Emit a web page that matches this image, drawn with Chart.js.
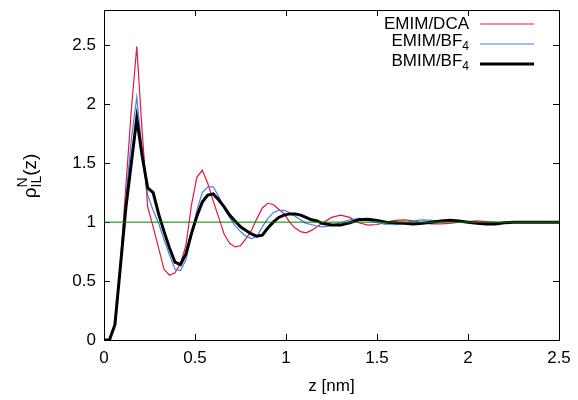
<!DOCTYPE html>
<html>
<head>
<meta charset="utf-8">
<script src="https://cdn.jsdelivr.net/npm/chart.js@4/dist/chart.umd.min.js"></script>
<style>
    html, body { margin: 0; padding: 0; background: #fff; }
    #wrap { width: 578px; height: 400px; }
</style>
</head>
<body>
<div id="wrap"><canvas id="chart"></canvas></div>
<script>
// sample positions z [nm]
const zValues = [
    0, 0.03, 0.06, 0.09, 0.12, 0.15, 0.18, 0.21, 0.24, 0.27,
    0.30, 0.33, 0.36, 0.39, 0.42, 0.45, 0.48, 0.51, 0.54, 0.57,
    0.60, 0.63, 0.66, 0.69, 0.72, 0.75, 0.78, 0.81, 0.84, 0.87,
    0.90, 0.93, 0.96, 0.99, 1.02, 1.05, 1.08, 1.11, 1.14, 1.17,
    1.20, 1.25, 1.30, 1.35, 1.40, 1.45, 1.50, 1.55, 1.60, 1.65,
    1.70, 1.75, 1.80, 1.85, 1.90, 1.95, 2.00, 2.05, 2.10, 2.15,
    2.20, 2.25, 2.30, 2.35, 2.40, 2.45, 2.50,
];

const emimDca = [
    0, 0, 0.14, 0.65, 1.3, 1.95, 2.49, 1.76, 1.13, 0.96,
    0.78, 0.6, 0.55, 0.57, 0.65, 0.8, 1.14, 1.38, 1.44, 1.33,
    1.18, 1.04, 0.9, 0.82, 0.79, 0.8, 0.86, 0.93, 1.03, 1.12,
    1.16, 1.15, 1.11, 1.07, 1.0, 0.95, 0.92, 0.91, 0.93, 0.96,
    0.99, 1.04, 1.06, 1.04, 0.995, 0.975, 0.98, 1.0, 1.015, 1.02,
    1.01, 0.995, 0.985, 0.985, 0.99, 1.0, 1.005, 1.01, 1.005, 1.0,
    0.995, 1.0, 1.0, 1.0, 1.0, 1.0, 1.0,
];

const emimBf4 = [
    0, 0, 0.14, 0.65, 1.2, 1.7, 2.06, 1.6, 1.23, 1.1,
    0.99, 0.85, 0.72, 0.6, 0.59, 0.68, 0.88, 1.1, 1.25, 1.3,
    1.3, 1.22, 1.12, 1.04, 0.97, 0.92, 0.88, 0.86, 0.88, 0.96,
    1.03, 1.08, 1.1, 1.1, 1.08, 1.05, 1.02, 0.99, 0.98, 0.965,
    0.96, 0.97, 0.995, 1.02, 1.03, 1.015, 0.995, 0.98, 0.978, 0.99,
    1.01, 1.02, 1.015, 1.01, 1.01, 1.005, 1.0, 0.995, 0.995, 0.995,
    1.0, 1.0, 1.0, 1.0, 1.0, 1.0, 1.0,
];

const bmimBf4 = [
    0, 0, 0.13, 0.62, 1.12, 1.5, 1.88, 1.56, 1.29, 1.25,
    1.07, 0.92, 0.78, 0.66, 0.64, 0.73, 0.9, 1.05, 1.17, 1.23,
    1.24, 1.19, 1.13, 1.06, 1.01, 0.96, 0.93, 0.9, 0.88, 0.89,
    0.95, 1.0, 1.04, 1.06, 1.07, 1.07, 1.06, 1.04, 1.02, 1.01,
    0.99, 0.975, 0.975, 0.995, 1.02, 1.025, 1.015, 1.0, 0.995, 0.99,
    0.985, 0.99, 1.0, 1.01, 1.015, 1.01, 1.0, 0.99, 0.985, 0.985,
    0.995, 1.0, 1.0, 1.0, 1.0, 1.0, 1.0,
];

// bulk reference line
const refZ = [0, 2.5];
const refY = [1, 1];

const seriesLabels = ["EMIM/DCA", "EMIM/BF_4", "BMIM/BF_4"];
const xTicks = [0, 0.5, 1, 1.5, 2, 2.5];
const yTicks = [0, 0.5, 1, 1.5, 2, 2.5];

const RED = "#dd1a44";
const BLUE = "#4a7de6";
const BLACK = "#000000";
const GREEN = "#008000";
const FONT = "Liberation Sans, Arial, sans-serif";

function points(xs, ys) {
    return xs.map((x, i) => ({ x, y: ys[i] }));
}

// split gnuplot-style label into normal / _sub / ^sup parts
function richParts(label) {
    const parts = [];
    const re = /([_^])(\{[^}]*\}|.)|([^_^]+)/g;
    let m;
    while ((m = re.exec(label))) {
        if (m[3]) parts.push({ text: m[3], kind: "n" });
        else parts.push({ text: m[2].replace(/[{}]/g, ""), kind: m[1] === "_" ? "sub" : "sup" });
    }
    return parts;
}

function drawRich(ctx, parts, x, y, align, size) {
    const small = Math.round(size * 0.72);
    const fontFor = (p) => (p.kind === "n" ? size : small) + "px " + FONT;
    // a sup directly followed by a sub share the same slot
    const items = [];
    for (let i = 0; i < parts.length; i++) {
        const p = parts[i];
        ctx.font = fontFor(p);
        const w = ctx.measureText(p.text).width;
        const prev = items[items.length - 1];
        const stacked = !!(prev && prev.part.kind === "sup" && p.kind === "sub");
        items.push({ part: p, w, stacked });
    }
    let total = 0;
    items.forEach((it, i) => {
        total += it.stacked ? Math.max(0, it.w - items[i - 1].w) : it.w;
    });
    let cx = align === "right" ? x - total : align === "center" ? x - total / 2 : x;
    ctx.textAlign = "left";
    ctx.textBaseline = "middle";
    items.forEach((it, i) => {
        const p = it.part;
        ctx.font = fontFor(p);
        let dy = 0;
        if (p.kind === "sub") dy = size * 0.32;
        if (p.kind === "sup") dy = -size * 0.42;
        const startX = it.stacked ? cx - items[i - 1].w : cx;
        ctx.fillText(p.text, startX, y + dy);
        cx = it.stacked ? startX + Math.max(it.w, items[i - 1].w) : cx + it.w;
    });
}

const legendPlugin = {
    id: "gnuLegend",
    afterDraw(chart) {
        const ctx = chart.ctx;
        const a = chart.chartArea;
        const colors = [RED, BLUE, BLACK];
        const widths = [1.2, 1.2, 3];
        ctx.save();
        seriesLabels.forEach((label, i) => {
            const ly = 24 + i * 20;
            const parts = richParts(label);
            const hasSub = parts.some((p) => p.kind === "sub");
            ctx.fillStyle = "#000";
            drawRich(ctx, parts, 469, hasSub ? ly - 3 : ly, "right", 17);
            ctx.strokeStyle = colors[i];
            ctx.lineWidth = widths[i];
            ctx.beginPath();
            ctx.moveTo(480, ly);
            ctx.lineTo(534, ly);
            ctx.stroke();
        });
        ctx.fillStyle = "#000";
        drawRich(ctx, richParts("z [nm]"), (a.left + a.right) / 2, 386, "center", 17);
        ctx.translate(31, 176);
        ctx.rotate(-Math.PI / 2);
        drawRich(ctx, richParts("ρ^N_{IL}(z)"), 0, 0, "center", 19);
        ctx.restore();
    },
};

const tickLabel = (v) => String(+Number(v).toFixed(2));

// inward tick marks and a black border on every side
const frameGrid = { display: true, drawOnChartArea: false, drawTicks: true, tickLength: -6, color: "#000", lineWidth: 1 };
const frameBorder = { display: true, color: "#000", width: 1 };
const noPad = (s) => { s.paddingTop = 0; s.paddingBottom = 0; s.paddingLeft = 0; s.paddingRight = 0; };

new Chart(document.getElementById("chart"), {
    type: "line",
    data: {
        datasets: [
            { label: "bulk", data: points(refZ, refY), borderColor: GREEN, borderWidth: 1 },
            { label: seriesLabels[2], data: points(zValues, bmimBf4), borderColor: BLACK, borderWidth: 3 },
            { label: seriesLabels[1], data: points(zValues, emimBf4), borderColor: BLUE, borderWidth: 1.2 },
            { label: seriesLabels[0], data: points(zValues, emimDca), borderColor: RED, borderWidth: 1.2 },
        ].map((ds) => ({ ...ds, pointRadius: 0, tension: 0, fill: false, xAxisID: "x", yAxisID: "y" })),
    },
    options: {
        responsive: true,
        maintainAspectRatio: false,
        animation: false,
        layout: { padding: { left: 0, right: 19, top: 10, bottom: 0 } },
        plugins: { legend: { display: false }, tooltip: { enabled: false } },
        scales: {
            x: {
                type: "linear",
                position: "bottom",
                min: 0,
                max: 2.5,
                grid: frameGrid,
                border: frameBorder,
                ticks: { color: "#000", padding: 14, maxRotation: 0, callback: tickLabel, font: { family: FONT, size: 17 } },
                afterBuildTicks: (s) => { s.ticks = xTicks.map((v) => ({ value: v })); },
                afterFit: (s) => { s.height = 60; noPad(s); },
            },
            y: {
                type: "linear",
                position: "left",
                min: 0,
                max: 2.8,
                grid: frameGrid,
                border: frameBorder,
                ticks: { color: "#000", padding: 14, callback: tickLabel, font: { family: FONT, size: 17 } },
                afterBuildTicks: (s) => { s.ticks = yTicks.map((v) => ({ value: v })); },
                afterFit: (s) => { s.width = 104; noPad(s); },
            },
            x2: {
                type: "linear",
                position: "top",
                min: 0,
                max: 2.5,
                grid: frameGrid,
                border: frameBorder,
                ticks: { display: false },
                afterBuildTicks: (s) => { s.ticks = xTicks.map((v) => ({ value: v })); },
                afterFit: (s) => { s.height = 0; noPad(s); },
            },
            y2: {
                type: "linear",
                position: "right",
                min: 0,
                max: 2.8,
                grid: frameGrid,
                border: frameBorder,
                ticks: { display: false },
                afterBuildTicks: (s) => { s.ticks = yTicks.map((v) => ({ value: v })); },
                afterFit: (s) => { s.width = 0; noPad(s); },
            },
        },
    },
    plugins: [legendPlugin],
});
</script>
</body>
</html>
